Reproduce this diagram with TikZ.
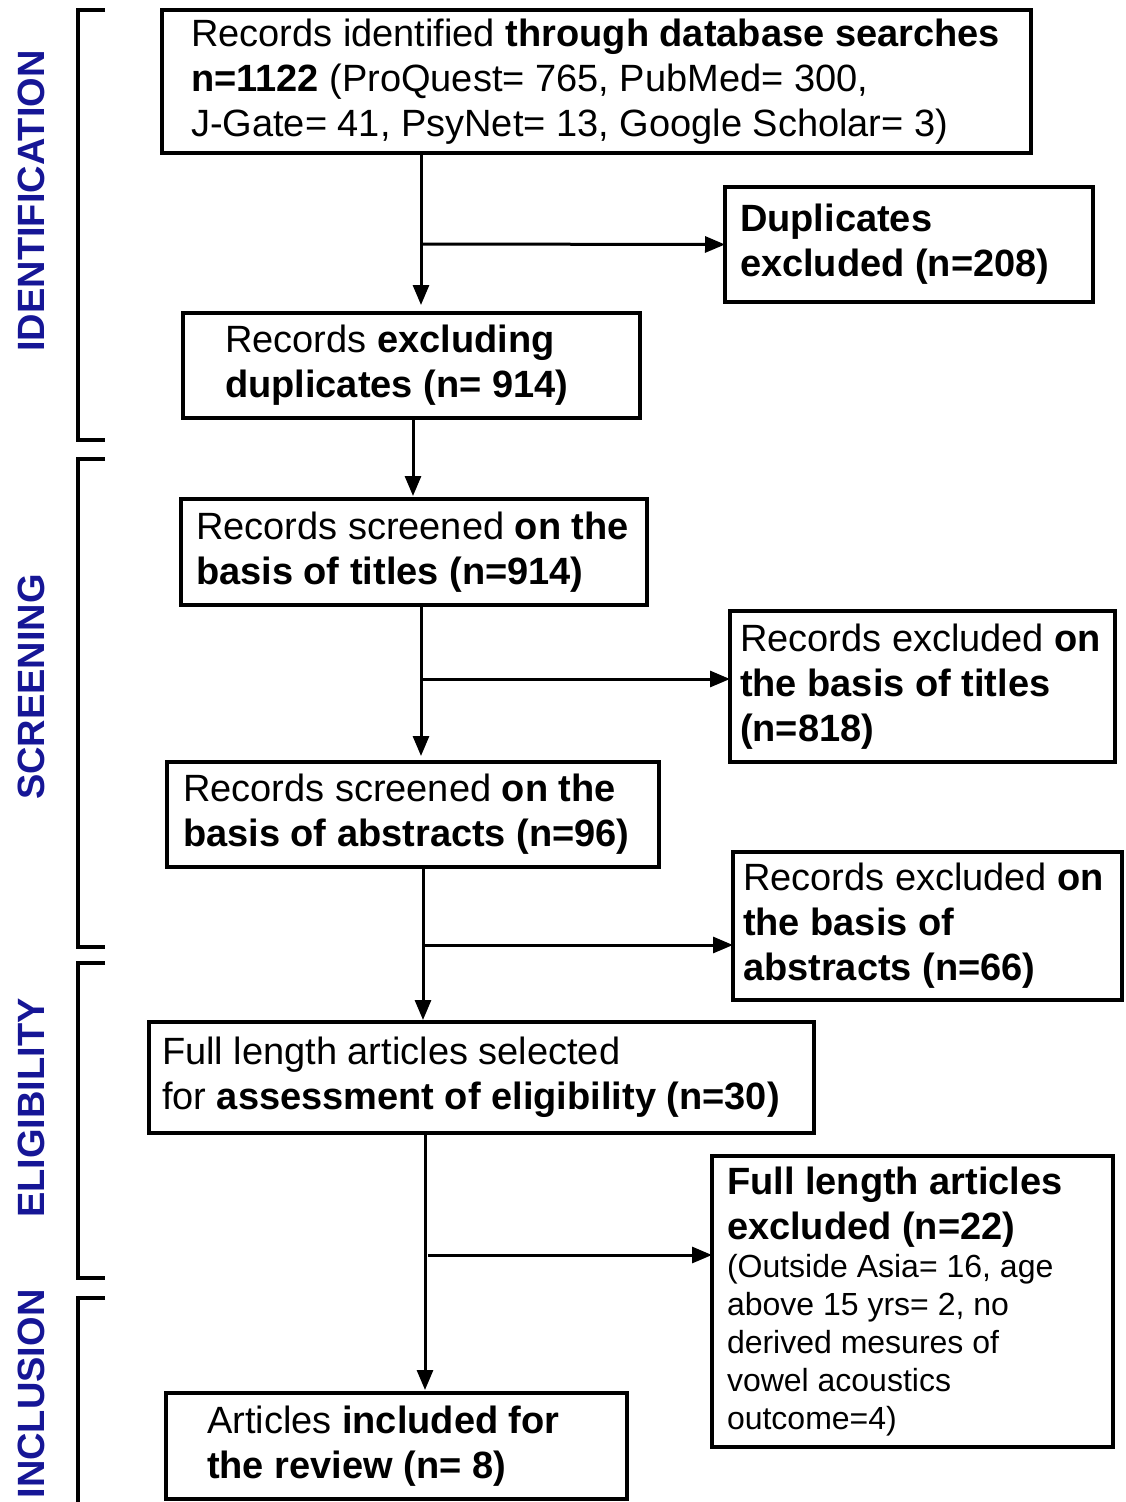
\documentclass[tikz,border=0pt]{standalone}
\usepackage{fontspec}
\setmainfont{Liberation Sans}
\usetikzlibrary{arrows.meta}
\definecolor{phaseblue}{RGB}{22,22,150}
\newcommand{\phasebar}[5]{\draw[phaseline] (105,#1) -- (78,#1) -- (78,#2) -- (105,#2);
	\node[phaselabel] (#4) at (31,#3) {#5};}
\tikzset{
	stage/.style={draw,line width=3.5pt,anchor=north west,outer sep=0pt,inner ysep=0pt,align=flush left,font=\fontsize{38}{45}\selectfont},
	flow/.style={line width=3pt,-{Triangle[length=20pt,width=16pt]}},
	phaseline/.style={line width=4pt},
	phaselabel/.style={rotate=90,text=phaseblue,font=\fontsize{38}{45}\selectfont\bfseries}
}

\begin{document}
\begin{tikzpicture}[x=1pt,y=-1pt]
		\useasboundingbox (0,0) rectangle (1125,1502);
		
		\node[stage,inner xsep=29pt,text width=811pt,minimum height=143pt](ident) at (162,10) {Records identified \textbf{through database searches}\\\textbf{n=1122} (ProQuest= 765, PubMed= 300,\\J-Gate= 41, PsyNet= 13, Google Scholar= 3)};
		\node[stage,inner xsep=15pt,text width=338pt,minimum height=115pt](dupl) at (725,187) {\textbf{Duplicates}\\\textbf{excluded (n=208)}};
		\node[stage,inner xsep=42pt,text width=373pt,minimum height=105pt](dedup) at (183,313) {Records \textbf{excluding}\\\textbf{duplicates (n= 914)}};
		\node[stage,inner xsep=15pt,text width=436pt,minimum height=106pt](titles) at (181,499) {Records screened \textbf{on the}\\\textbf{basis of titles (n=914)}};
		\node[stage,inner xsep=10pt,text width=365pt,minimum height=151pt](extitles) at (730,611) {Records excluded \textbf{on}\\\textbf{the basis of titles}\\\textbf{(n=818)}};
		\node[stage,inner xsep=16pt,text width=460pt,minimum height=105pt](abstr) at (167,762) {Records screened \textbf{on the}\\\textbf{basis of abstracts (n=96)}};
		\node[stage,inner xsep=10pt,text width=369pt,minimum height=148pt](exabstr) at (733,852) {Records excluded \textbf{on}\\\textbf{the basis of}\\\textbf{abstracts (n=66)}};
		\node[stage,inner xsep=13pt,text width=639pt,minimum height=111pt](full) at (149,1022) {Full length articles selected\\for \textbf{assessment of eligibility (n=30)}};
		\node[stage,inner xsep=15pt,text width=371pt,minimum height=291pt](exfull) at (712,1156) {\textbf{Full length articles}\\\textbf{excluded (n=22)}\par
			\fontsize{32}{38}\selectfont (Outside Asia= 16, age\\above 15 yrs= 2, no\\derived mesures of\\vowel acoustics\\outcome=4)\par};
		\node[stage,inner xsep=41pt,text width=379pt,minimum height=106pt](incl) at (166,1393) {Articles \textbf{included for}\\\textbf{the review (n= 8)}};
		
		\coordinate (s1) at (421,244);
		\coordinate (s2) at (421,679);
		\coordinate (s3) at (423,945);
		\coordinate (s4) at (425,1255);
		\coordinate (s4r) at (428,1255);
		
		\draw[flow,shorten >=8pt] (ident.south -| s1) -- (dedup.north -| s1);
		\draw[flow] (s1) -- (dupl.west);
		\draw[flow,shorten >=3pt] (dedup.south -| 413,0) -- (titles.north -| 413,0);
		\draw[flow,shorten >=6pt] (titles.south -| s2) -- (abstr.north -| s2);
		\draw[flow] (s2) -- (extitles.west |- s2);
		\draw[flow,shorten >=2pt] (abstr.south -| s3) -- (full.north -| s3);
		\draw[flow] (s3) -- (exabstr.west |- s3);
		\draw[flow,shorten >=3pt] (full.south -| s4) -- (incl.north -| s4);
		\draw[flow] (s4r) -- (exfull.west |- s4r);
		
		\phasebar{10}{440}{201}{pid}{IDENTIFICATION}
		\phasebar{459}{947}{687}{pscr}{SCREENING}
		\phasebar{963}{1278}{1108}{pelig}{ELIGIBILITY}
		\phasebar{1298}{1506}{1394}{pincl}{INCLUSION}
	\end{tikzpicture}
\end{document}
